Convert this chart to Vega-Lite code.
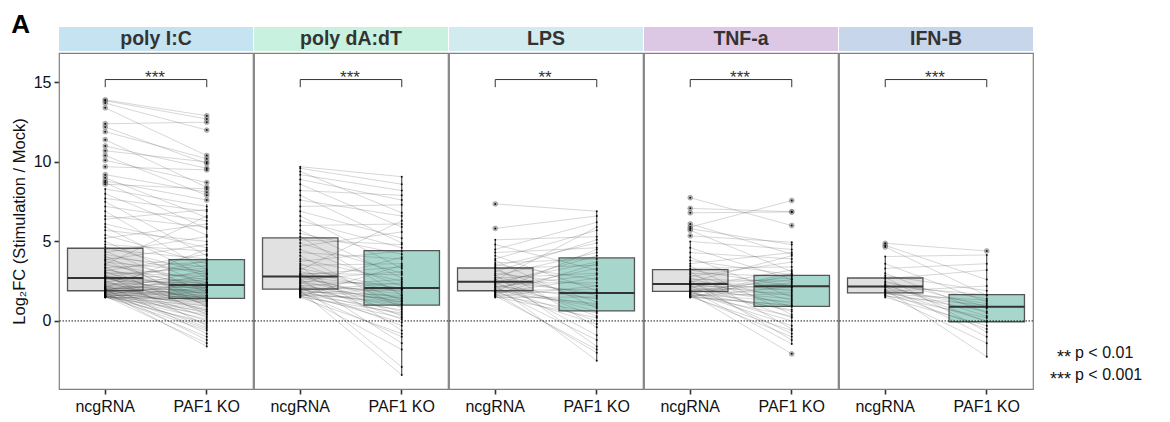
{
  "$schema": "https://vega.github.io/schema/vega-lite/v6.json",
  "padding": {"left": 11, "top": 12, "right": 5, "bottom": 5},
  "title": {"text": "A", "anchor": "start", "frame": "bounds", "fontSize": 26, "fontWeight": "bold", "color": "#000000", "font": "Liberation Sans", "offset": -12},
  "datasets": {
    "main": [
      {"t":"panel","p":"poly I:C","sig":"***"},
      {"t":"panel","p":"poly dA:dT","sig":"***"},
      {"t":"panel","p":"LPS","sig":"**"},
      {"t":"panel","p":"TNF-a","sig":"***"},
      {"t":"panel","p":"IFN-B","sig":"***"},
      {"t":"key","s":"**","l":"p < 0.01"},
      {"t":"key","s":"***","l":"p < 0.001"},
      {"t":"box","p":"poly I:C","g":"ncgRNA","q1":1.9,"med":2.7,"q3":4.57,"lo":1.48,"hi":8.3},
      {"t":"box","p":"poly I:C","g":"PAF1 KO","q1":1.42,"med":2.26,"q3":3.85,"lo":-1.6,"hi":7.35},
      {"t":"box","p":"poly dA:dT","g":"ncgRNA","q1":2.0,"med":2.8,"q3":5.22,"lo":1.48,"hi":9.7},
      {"t":"box","p":"poly dA:dT","g":"PAF1 KO","q1":1.0,"med":2.07,"q3":4.42,"lo":-3.4,"hi":9.07},
      {"t":"box","p":"LPS","g":"ncgRNA","q1":1.9,"med":2.47,"q3":3.33,"lo":1.48,"hi":5.1},
      {"t":"box","p":"LPS","g":"PAF1 KO","q1":0.63,"med":1.76,"q3":3.96,"lo":-2.5,"hi":6.9},
      {"t":"box","p":"TNF-a","g":"ncgRNA","q1":1.86,"med":2.33,"q3":3.23,"lo":1.48,"hi":5.0},
      {"t":"box","p":"TNF-a","g":"PAF1 KO","q1":0.92,"med":2.18,"q3":2.87,"lo":-1.45,"hi":4.95},
      {"t":"box","p":"IFN-B","g":"ncgRNA","q1":1.76,"med":2.16,"q3":2.7,"lo":1.48,"hi":4.05},
      {"t":"box","p":"IFN-B","g":"PAF1 KO","q1":-0.05,"med":0.9,"q3":1.65,"lo":-2.25,"hi":4.15},
      {"t":"pair","p":"poly I:C","id":1,"ncgRNA":13.9,"PAF1 KO":12.9},
      {"t":"pair","p":"poly I:C","id":2,"ncgRNA":13.85,"PAF1 KO":12.7},
      {"t":"pair","p":"poly I:C","id":3,"ncgRNA":13.7,"PAF1 KO":12.0},
      {"t":"pair","p":"poly I:C","id":4,"ncgRNA":13.4,"PAF1 KO":10.4},
      {"t":"pair","p":"poly I:C","id":5,"ncgRNA":12.4,"PAF1 KO":12.5},
      {"t":"pair","p":"poly I:C","id":6,"ncgRNA":12.2,"PAF1 KO":9.9},
      {"t":"pair","p":"poly I:C","id":7,"ncgRNA":11.9,"PAF1 KO":10.2},
      {"t":"pair","p":"poly I:C","id":8,"ncgRNA":11.4,"PAF1 KO":8.4},
      {"t":"pair","p":"poly I:C","id":9,"ncgRNA":11.0,"PAF1 KO":9.6},
      {"t":"pair","p":"poly I:C","id":10,"ncgRNA":10.7,"PAF1 KO":10.0},
      {"t":"pair","p":"poly I:C","id":11,"ncgRNA":10.4,"PAF1 KO":7.9},
      {"t":"pair","p":"poly I:C","id":12,"ncgRNA":10.1,"PAF1 KO":8.7},
      {"t":"pair","p":"poly I:C","id":13,"ncgRNA":9.7,"PAF1 KO":9.5},
      {"t":"pair","p":"poly I:C","id":14,"ncgRNA":9.2,"PAF1 KO":8.1},
      {"t":"pair","p":"poly I:C","id":15,"ncgRNA":9.0,"PAF1 KO":6.5},
      {"t":"pair","p":"poly I:C","id":16,"ncgRNA":8.8,"PAF1 KO":7.6},
      {"t":"pair","p":"poly I:C","id":17,"ncgRNA":8.7,"PAF1 KO":5.8},
      {"t":"pair","p":"poly I:C","id":18,"ncgRNA":8.6,"PAF1 KO":8.3},
      {"t":"pair","p":"poly I:C","id":19,"ncgRNA":8.3,"PAF1 KO":7.2},
      {"t":"pair","p":"poly I:C","id":20,"ncgRNA":8.0,"PAF1 KO":5.4},
      {"t":"pair","p":"poly I:C","id":21,"ncgRNA":7.7,"PAF1 KO":6.9},
      {"t":"pair","p":"poly I:C","id":22,"ncgRNA":7.5,"PAF1 KO":4.1},
      {"t":"pair","p":"poly I:C","id":23,"ncgRNA":7.2,"PAF1 KO":6.3},
      {"t":"pair","p":"poly I:C","id":24,"ncgRNA":6.9,"PAF1 KO":3.2},
      {"t":"pair","p":"poly I:C","id":25,"ncgRNA":6.6,"PAF1 KO":5.9},
      {"t":"pair","p":"poly I:C","id":26,"ncgRNA":6.4,"PAF1 KO":7.0},
      {"t":"pair","p":"poly I:C","id":27,"ncgRNA":6.1,"PAF1 KO":4.6},
      {"t":"pair","p":"poly I:C","id":28,"ncgRNA":5.9,"PAF1 KO":2.7},
      {"t":"pair","p":"poly I:C","id":29,"ncgRNA":5.7,"PAF1 KO":5.0},
      {"t":"pair","p":"poly I:C","id":30,"ncgRNA":5.4,"PAF1 KO":3.6},
      {"t":"pair","p":"poly I:C","id":31,"ncgRNA":5.2,"PAF1 KO":6.1},
      {"t":"pair","p":"poly I:C","id":32,"ncgRNA":5.0,"PAF1 KO":2.2},
      {"t":"pair","p":"poly I:C","id":33,"ncgRNA":4.8,"PAF1 KO":4.4},
      {"t":"pair","p":"poly I:C","id":34,"ncgRNA":4.65,"PAF1 KO":3.0},
      {"t":"pair","p":"poly I:C","id":35,"ncgRNA":4.5,"PAF1 KO":3.9},
      {"t":"pair","p":"poly I:C","id":36,"ncgRNA":4.4,"PAF1 KO":1.8},
      {"t":"pair","p":"poly I:C","id":37,"ncgRNA":4.3,"PAF1 KO":5.3},
      {"t":"pair","p":"poly I:C","id":38,"ncgRNA":4.2,"PAF1 KO":2.9},
      {"t":"pair","p":"poly I:C","id":39,"ncgRNA":4.1,"PAF1 KO":0.9},
      {"t":"pair","p":"poly I:C","id":40,"ncgRNA":4.0,"PAF1 KO":3.4},
      {"t":"pair","p":"poly I:C","id":41,"ncgRNA":3.9,"PAF1 KO":2.4},
      {"t":"pair","p":"poly I:C","id":42,"ncgRNA":3.85,"PAF1 KO":4.8},
      {"t":"pair","p":"poly I:C","id":43,"ncgRNA":3.8,"PAF1 KO":1.3},
      {"t":"pair","p":"poly I:C","id":44,"ncgRNA":3.7,"PAF1 KO":3.1},
      {"t":"pair","p":"poly I:C","id":45,"ncgRNA":3.6,"PAF1 KO":2.0},
      {"t":"pair","p":"poly I:C","id":46,"ncgRNA":3.55,"PAF1 KO":6.6},
      {"t":"pair","p":"poly I:C","id":47,"ncgRNA":3.5,"PAF1 KO":2.6},
      {"t":"pair","p":"poly I:C","id":48,"ncgRNA":3.4,"PAF1 KO":0.4},
      {"t":"pair","p":"poly I:C","id":49,"ncgRNA":3.35,"PAF1 KO":3.7},
      {"t":"pair","p":"poly I:C","id":50,"ncgRNA":3.3,"PAF1 KO":1.6},
      {"t":"pair","p":"poly I:C","id":51,"ncgRNA":3.2,"PAF1 KO":2.3},
      {"t":"pair","p":"poly I:C","id":52,"ncgRNA":3.15,"PAF1 KO":4.2},
      {"t":"pair","p":"poly I:C","id":53,"ncgRNA":3.1,"PAF1 KO":1.0},
      {"t":"pair","p":"poly I:C","id":54,"ncgRNA":3.05,"PAF1 KO":2.8},
      {"t":"pair","p":"poly I:C","id":55,"ncgRNA":3.0,"PAF1 KO":1.9},
      {"t":"pair","p":"poly I:C","id":56,"ncgRNA":2.95,"PAF1 KO":3.3},
      {"t":"pair","p":"poly I:C","id":57,"ncgRNA":2.9,"PAF1 KO":-0.3},
      {"t":"pair","p":"poly I:C","id":58,"ncgRNA":2.85,"PAF1 KO":2.1},
      {"t":"pair","p":"poly I:C","id":59,"ncgRNA":2.8,"PAF1 KO":1.5},
      {"t":"pair","p":"poly I:C","id":60,"ncgRNA":2.78,"PAF1 KO":3.5},
      {"t":"pair","p":"poly I:C","id":61,"ncgRNA":2.75,"PAF1 KO":0.6},
      {"t":"pair","p":"poly I:C","id":62,"ncgRNA":2.72,"PAF1 KO":2.5},
      {"t":"pair","p":"poly I:C","id":63,"ncgRNA":2.71,"PAF1 KO":1.2},
      {"t":"pair","p":"poly I:C","id":64,"ncgRNA":2.7,"PAF1 KO":2.0},
      {"t":"pair","p":"poly I:C","id":65,"ncgRNA":2.68,"PAF1 KO":2.26},
      {"t":"pair","p":"poly I:C","id":66,"ncgRNA":2.65,"PAF1 KO":1.7},
      {"t":"pair","p":"poly I:C","id":67,"ncgRNA":2.6,"PAF1 KO":3.0},
      {"t":"pair","p":"poly I:C","id":68,"ncgRNA":2.55,"PAF1 KO":0.2},
      {"t":"pair","p":"poly I:C","id":69,"ncgRNA":2.5,"PAF1 KO":2.4},
      {"t":"pair","p":"poly I:C","id":70,"ncgRNA":2.45,"PAF1 KO":1.4},
      {"t":"pair","p":"poly I:C","id":71,"ncgRNA":2.42,"PAF1 KO":3.8},
      {"t":"pair","p":"poly I:C","id":72,"ncgRNA":2.4,"PAF1 KO":1.1},
      {"t":"pair","p":"poly I:C","id":73,"ncgRNA":2.35,"PAF1 KO":2.2},
      {"t":"pair","p":"poly I:C","id":74,"ncgRNA":2.3,"PAF1 KO":-0.8},
      {"t":"pair","p":"poly I:C","id":75,"ncgRNA":2.27,"PAF1 KO":1.8},
      {"t":"pair","p":"poly I:C","id":76,"ncgRNA":2.25,"PAF1 KO":2.7},
      {"t":"pair","p":"poly I:C","id":77,"ncgRNA":2.2,"PAF1 KO":1.45},
      {"t":"pair","p":"poly I:C","id":78,"ncgRNA":2.17,"PAF1 KO":0.7},
      {"t":"pair","p":"poly I:C","id":79,"ncgRNA":2.15,"PAF1 KO":2.1},
      {"t":"pair","p":"poly I:C","id":80,"ncgRNA":2.12,"PAF1 KO":1.6},
      {"t":"pair","p":"poly I:C","id":81,"ncgRNA":2.1,"PAF1 KO":4.5},
      {"t":"pair","p":"poly I:C","id":82,"ncgRNA":2.07,"PAF1 KO":0.0},
      {"t":"pair","p":"poly I:C","id":83,"ncgRNA":2.05,"PAF1 KO":1.9},
      {"t":"pair","p":"poly I:C","id":84,"ncgRNA":2.03,"PAF1 KO":1.3},
      {"t":"pair","p":"poly I:C","id":85,"ncgRNA":2.0,"PAF1 KO":2.3},
      {"t":"pair","p":"poly I:C","id":86,"ncgRNA":1.99,"PAF1 KO":-1.2},
      {"t":"pair","p":"poly I:C","id":87,"ncgRNA":1.97,"PAF1 KO":1.5},
      {"t":"pair","p":"poly I:C","id":88,"ncgRNA":1.96,"PAF1 KO":2.6},
      {"t":"pair","p":"poly I:C","id":89,"ncgRNA":1.95,"PAF1 KO":0.9},
      {"t":"pair","p":"poly I:C","id":90,"ncgRNA":1.94,"PAF1 KO":1.75},
      {"t":"pair","p":"poly I:C","id":91,"ncgRNA":1.93,"PAF1 KO":-0.4},
      {"t":"pair","p":"poly I:C","id":92,"ncgRNA":1.92,"PAF1 KO":2.0},
      {"t":"pair","p":"poly I:C","id":93,"ncgRNA":1.91,"PAF1 KO":1.2},
      {"t":"pair","p":"poly I:C","id":94,"ncgRNA":1.9,"PAF1 KO":3.2},
      {"t":"pair","p":"poly I:C","id":95,"ncgRNA":1.88,"PAF1 KO":1.4},
      {"t":"pair","p":"poly I:C","id":96,"ncgRNA":1.86,"PAF1 KO":0.5},
      {"t":"pair","p":"poly I:C","id":97,"ncgRNA":1.85,"PAF1 KO":2.2},
      {"t":"pair","p":"poly I:C","id":98,"ncgRNA":1.83,"PAF1 KO":1.0},
      {"t":"pair","p":"poly I:C","id":99,"ncgRNA":1.82,"PAF1 KO":-1.6},
      {"t":"pair","p":"poly I:C","id":100,"ncgRNA":1.8,"PAF1 KO":1.6},
      {"t":"pair","p":"poly I:C","id":101,"ncgRNA":1.78,"PAF1 KO":0.3},
      {"t":"pair","p":"poly I:C","id":102,"ncgRNA":1.77,"PAF1 KO":2.9},
      {"t":"pair","p":"poly I:C","id":103,"ncgRNA":1.75,"PAF1 KO":1.1},
      {"t":"pair","p":"poly I:C","id":104,"ncgRNA":1.73,"PAF1 KO":-0.5},
      {"t":"pair","p":"poly I:C","id":105,"ncgRNA":1.72,"PAF1 KO":1.9},
      {"t":"pair","p":"poly I:C","id":106,"ncgRNA":1.7,"PAF1 KO":0.8},
      {"t":"pair","p":"poly I:C","id":107,"ncgRNA":1.68,"PAF1 KO":1.3},
      {"t":"pair","p":"poly I:C","id":108,"ncgRNA":1.67,"PAF1 KO":-1.0},
      {"t":"pair","p":"poly I:C","id":109,"ncgRNA":1.65,"PAF1 KO":2.4},
      {"t":"pair","p":"poly I:C","id":110,"ncgRNA":1.63,"PAF1 KO":0.1},
      {"t":"pair","p":"poly I:C","id":111,"ncgRNA":1.62,"PAF1 KO":1.5},
      {"t":"pair","p":"poly I:C","id":112,"ncgRNA":1.6,"PAF1 KO":-0.2},
      {"t":"pair","p":"poly I:C","id":113,"ncgRNA":1.59,"PAF1 KO":0.7},
      {"t":"pair","p":"poly I:C","id":114,"ncgRNA":1.57,"PAF1 KO":1.8},
      {"t":"pair","p":"poly I:C","id":115,"ncgRNA":1.56,"PAF1 KO":-1.4},
      {"t":"pair","p":"poly I:C","id":116,"ncgRNA":1.55,"PAF1 KO":1.2},
      {"t":"pair","p":"poly I:C","id":117,"ncgRNA":1.54,"PAF1 KO":0.4},
      {"t":"pair","p":"poly I:C","id":118,"ncgRNA":1.53,"PAF1 KO":2.1},
      {"t":"pair","p":"poly I:C","id":119,"ncgRNA":1.52,"PAF1 KO":-0.6},
      {"t":"pair","p":"poly I:C","id":120,"ncgRNA":1.51,"PAF1 KO":0.95},
      {"t":"pair","p":"poly I:C","id":121,"ncgRNA":1.5,"PAF1 KO":1.42},
      {"t":"pair","p":"poly I:C","id":122,"ncgRNA":1.49,"PAF1 KO":-0.1},
      {"t":"pair","p":"poly I:C","id":123,"ncgRNA":1.485,"PAF1 KO":0.6},
      {"t":"pair","p":"poly I:C","id":124,"ncgRNA":1.48,"PAF1 KO":1.35},
      {"t":"pair","p":"poly dA:dT","id":1,"ncgRNA":9.7,"PAF1 KO":9.07},
      {"t":"pair","p":"poly dA:dT","id":2,"ncgRNA":9.6,"PAF1 KO":8.6},
      {"t":"pair","p":"poly dA:dT","id":3,"ncgRNA":9.4,"PAF1 KO":6.8},
      {"t":"pair","p":"poly dA:dT","id":4,"ncgRNA":9.2,"PAF1 KO":8.2},
      {"t":"pair","p":"poly dA:dT","id":5,"ncgRNA":8.9,"PAF1 KO":7.6},
      {"t":"pair","p":"poly dA:dT","id":6,"ncgRNA":8.6,"PAF1 KO":5.9},
      {"t":"pair","p":"poly dA:dT","id":7,"ncgRNA":8.2,"PAF1 KO":7.9},
      {"t":"pair","p":"poly dA:dT","id":8,"ncgRNA":7.9,"PAF1 KO":4.9},
      {"t":"pair","p":"poly dA:dT","id":9,"ncgRNA":7.6,"PAF1 KO":6.6},
      {"t":"pair","p":"poly dA:dT","id":10,"ncgRNA":7.2,"PAF1 KO":7.3},
      {"t":"pair","p":"poly dA:dT","id":11,"ncgRNA":6.9,"PAF1 KO":5.2},
      {"t":"pair","p":"poly dA:dT","id":12,"ncgRNA":6.6,"PAF1 KO":3.3},
      {"t":"pair","p":"poly dA:dT","id":13,"ncgRNA":6.3,"PAF1 KO":4.6},
      {"t":"pair","p":"poly dA:dT","id":14,"ncgRNA":6.0,"PAF1 KO":6.1},
      {"t":"pair","p":"poly dA:dT","id":15,"ncgRNA":5.7,"PAF1 KO":2.7},
      {"t":"pair","p":"poly dA:dT","id":16,"ncgRNA":5.5,"PAF1 KO":4.2},
      {"t":"pair","p":"poly dA:dT","id":17,"ncgRNA":5.3,"PAF1 KO":1.6},
      {"t":"pair","p":"poly dA:dT","id":18,"ncgRNA":5.1,"PAF1 KO":4.8},
      {"t":"pair","p":"poly dA:dT","id":19,"ncgRNA":4.9,"PAF1 KO":3.0},
      {"t":"pair","p":"poly dA:dT","id":20,"ncgRNA":4.7,"PAF1 KO":5.6},
      {"t":"pair","p":"poly dA:dT","id":21,"ncgRNA":4.5,"PAF1 KO":2.2},
      {"t":"pair","p":"poly dA:dT","id":22,"ncgRNA":4.3,"PAF1 KO":3.9},
      {"t":"pair","p":"poly dA:dT","id":23,"ncgRNA":4.1,"PAF1 KO":0.8},
      {"t":"pair","p":"poly dA:dT","id":24,"ncgRNA":3.9,"PAF1 KO":2.5},
      {"t":"pair","p":"poly dA:dT","id":25,"ncgRNA":3.75,"PAF1 KO":4.4},
      {"t":"pair","p":"poly dA:dT","id":26,"ncgRNA":3.6,"PAF1 KO":1.3},
      {"t":"pair","p":"poly dA:dT","id":27,"ncgRNA":3.5,"PAF1 KO":3.6},
      {"t":"pair","p":"poly dA:dT","id":28,"ncgRNA":3.4,"PAF1 KO":-0.6},
      {"t":"pair","p":"poly dA:dT","id":29,"ncgRNA":3.3,"PAF1 KO":2.0},
      {"t":"pair","p":"poly dA:dT","id":30,"ncgRNA":3.2,"PAF1 KO":6.3},
      {"t":"pair","p":"poly dA:dT","id":31,"ncgRNA":3.1,"PAF1 KO":1.8},
      {"t":"pair","p":"poly dA:dT","id":32,"ncgRNA":3.0,"PAF1 KO":2.9},
      {"t":"pair","p":"poly dA:dT","id":33,"ncgRNA":2.95,"PAF1 KO":0.3},
      {"t":"pair","p":"poly dA:dT","id":34,"ncgRNA":2.9,"PAF1 KO":3.4},
      {"t":"pair","p":"poly dA:dT","id":35,"ncgRNA":2.85,"PAF1 KO":1.1},
      {"t":"pair","p":"poly dA:dT","id":36,"ncgRNA":2.78,"PAF1 KO":2.07},
      {"t":"pair","p":"poly dA:dT","id":37,"ncgRNA":2.72,"PAF1 KO":1.4},
      {"t":"pair","p":"poly dA:dT","id":38,"ncgRNA":2.65,"PAF1 KO":-1.4},
      {"t":"pair","p":"poly dA:dT","id":39,"ncgRNA":2.6,"PAF1 KO":3.1},
      {"t":"pair","p":"poly dA:dT","id":40,"ncgRNA":2.55,"PAF1 KO":1.0},
      {"t":"pair","p":"poly dA:dT","id":41,"ncgRNA":2.5,"PAF1 KO":2.3},
      {"t":"pair","p":"poly dA:dT","id":42,"ncgRNA":2.45,"PAF1 KO":0.1},
      {"t":"pair","p":"poly dA:dT","id":43,"ncgRNA":2.4,"PAF1 KO":1.7},
      {"t":"pair","p":"poly dA:dT","id":44,"ncgRNA":2.35,"PAF1 KO":4.0},
      {"t":"pair","p":"poly dA:dT","id":45,"ncgRNA":2.3,"PAF1 KO":-2.9},
      {"t":"pair","p":"poly dA:dT","id":46,"ncgRNA":2.25,"PAF1 KO":1.2},
      {"t":"pair","p":"poly dA:dT","id":47,"ncgRNA":2.2,"PAF1 KO":2.6},
      {"t":"pair","p":"poly dA:dT","id":48,"ncgRNA":2.15,"PAF1 KO":0.6},
      {"t":"pair","p":"poly dA:dT","id":49,"ncgRNA":2.1,"PAF1 KO":1.9},
      {"t":"pair","p":"poly dA:dT","id":50,"ncgRNA":2.07,"PAF1 KO":-0.3},
      {"t":"pair","p":"poly dA:dT","id":51,"ncgRNA":2.04,"PAF1 KO":1.5},
      {"t":"pair","p":"poly dA:dT","id":52,"ncgRNA":2.0,"PAF1 KO":2.1},
      {"t":"pair","p":"poly dA:dT","id":53,"ncgRNA":1.98,"PAF1 KO":0.9},
      {"t":"pair","p":"poly dA:dT","id":54,"ncgRNA":1.95,"PAF1 KO":1.3},
      {"t":"pair","p":"poly dA:dT","id":55,"ncgRNA":1.92,"PAF1 KO":-3.4},
      {"t":"pair","p":"poly dA:dT","id":56,"ncgRNA":1.9,"PAF1 KO":2.4},
      {"t":"pair","p":"poly dA:dT","id":57,"ncgRNA":1.87,"PAF1 KO":0.4},
      {"t":"pair","p":"poly dA:dT","id":58,"ncgRNA":1.84,"PAF1 KO":1.6},
      {"t":"pair","p":"poly dA:dT","id":59,"ncgRNA":1.81,"PAF1 KO":-1.0},
      {"t":"pair","p":"poly dA:dT","id":60,"ncgRNA":1.78,"PAF1 KO":1.05},
      {"t":"pair","p":"poly dA:dT","id":61,"ncgRNA":1.75,"PAF1 KO":2.0},
      {"t":"pair","p":"poly dA:dT","id":62,"ncgRNA":1.72,"PAF1 KO":-0.1},
      {"t":"pair","p":"poly dA:dT","id":63,"ncgRNA":1.69,"PAF1 KO":1.2},
      {"t":"pair","p":"poly dA:dT","id":64,"ncgRNA":1.66,"PAF1 KO":0.7},
      {"t":"pair","p":"poly dA:dT","id":65,"ncgRNA":1.63,"PAF1 KO":-1.8},
      {"t":"pair","p":"poly dA:dT","id":66,"ncgRNA":1.6,"PAF1 KO":1.45},
      {"t":"pair","p":"poly dA:dT","id":67,"ncgRNA":1.57,"PAF1 KO":0.2},
      {"t":"pair","p":"poly dA:dT","id":68,"ncgRNA":1.54,"PAF1 KO":3.5},
      {"t":"pair","p":"poly dA:dT","id":69,"ncgRNA":1.51,"PAF1 KO":0.5},
      {"t":"pair","p":"poly dA:dT","id":70,"ncgRNA":1.48,"PAF1 KO":-0.8},
      {"t":"pair","p":"LPS","id":1,"ncgRNA":7.36,"PAF1 KO":6.9},
      {"t":"pair","p":"LPS","id":2,"ncgRNA":5.82,"PAF1 KO":6.6},
      {"t":"pair","p":"LPS","id":3,"ncgRNA":5.1,"PAF1 KO":5.3},
      {"t":"pair","p":"LPS","id":4,"ncgRNA":4.8,"PAF1 KO":3.2},
      {"t":"pair","p":"LPS","id":5,"ncgRNA":4.5,"PAF1 KO":6.2},
      {"t":"pair","p":"LPS","id":6,"ncgRNA":4.3,"PAF1 KO":4.6},
      {"t":"pair","p":"LPS","id":7,"ncgRNA":4.1,"PAF1 KO":1.9},
      {"t":"pair","p":"LPS","id":8,"ncgRNA":3.9,"PAF1 KO":5.7},
      {"t":"pair","p":"LPS","id":9,"ncgRNA":3.8,"PAF1 KO":0.8},
      {"t":"pair","p":"LPS","id":10,"ncgRNA":3.65,"PAF1 KO":3.9},
      {"t":"pair","p":"LPS","id":11,"ncgRNA":3.55,"PAF1 KO":2.6},
      {"t":"pair","p":"LPS","id":12,"ncgRNA":3.45,"PAF1 KO":4.9},
      {"t":"pair","p":"LPS","id":13,"ncgRNA":3.38,"PAF1 KO":-0.4},
      {"t":"pair","p":"LPS","id":14,"ncgRNA":3.3,"PAF1 KO":3.5},
      {"t":"pair","p":"LPS","id":15,"ncgRNA":3.2,"PAF1 KO":1.2},
      {"t":"pair","p":"LPS","id":16,"ncgRNA":3.1,"PAF1 KO":5.1},
      {"t":"pair","p":"LPS","id":17,"ncgRNA":3.0,"PAF1 KO":2.2},
      {"t":"pair","p":"LPS","id":18,"ncgRNA":2.9,"PAF1 KO":-1.6},
      {"t":"pair","p":"LPS","id":19,"ncgRNA":2.85,"PAF1 KO":4.3},
      {"t":"pair","p":"LPS","id":20,"ncgRNA":2.75,"PAF1 KO":1.6},
      {"t":"pair","p":"LPS","id":21,"ncgRNA":2.7,"PAF1 KO":3.0},
      {"t":"pair","p":"LPS","id":22,"ncgRNA":2.62,"PAF1 KO":0.3},
      {"t":"pair","p":"LPS","id":23,"ncgRNA":2.56,"PAF1 KO":5.9},
      {"t":"pair","p":"LPS","id":24,"ncgRNA":2.5,"PAF1 KO":1.76},
      {"t":"pair","p":"LPS","id":25,"ncgRNA":2.48,"PAF1 KO":-0.9},
      {"t":"pair","p":"LPS","id":26,"ncgRNA":2.45,"PAF1 KO":3.7},
      {"t":"pair","p":"LPS","id":27,"ncgRNA":2.4,"PAF1 KO":2.4},
      {"t":"pair","p":"LPS","id":28,"ncgRNA":2.35,"PAF1 KO":0.6},
      {"t":"pair","p":"LPS","id":29,"ncgRNA":2.3,"PAF1 KO":4.1},
      {"t":"pair","p":"LPS","id":30,"ncgRNA":2.25,"PAF1 KO":-2.5},
      {"t":"pair","p":"LPS","id":31,"ncgRNA":2.2,"PAF1 KO":1.4},
      {"t":"pair","p":"LPS","id":32,"ncgRNA":2.15,"PAF1 KO":2.9},
      {"t":"pair","p":"LPS","id":33,"ncgRNA":2.1,"PAF1 KO":0.0},
      {"t":"pair","p":"LPS","id":34,"ncgRNA":2.05,"PAF1 KO":3.3},
      {"t":"pair","p":"LPS","id":35,"ncgRNA":2.0,"PAF1 KO":1.0},
      {"t":"pair","p":"LPS","id":36,"ncgRNA":1.95,"PAF1 KO":-1.2},
      {"t":"pair","p":"LPS","id":37,"ncgRNA":1.91,"PAF1 KO":2.0},
      {"t":"pair","p":"LPS","id":38,"ncgRNA":1.89,"PAF1 KO":0.9},
      {"t":"pair","p":"LPS","id":39,"ncgRNA":1.86,"PAF1 KO":4.5},
      {"t":"pair","p":"LPS","id":40,"ncgRNA":1.83,"PAF1 KO":-0.2},
      {"t":"pair","p":"LPS","id":41,"ncgRNA":1.8,"PAF1 KO":1.8},
      {"t":"pair","p":"LPS","id":42,"ncgRNA":1.77,"PAF1 KO":2.7},
      {"t":"pair","p":"LPS","id":43,"ncgRNA":1.73,"PAF1 KO":-2.0},
      {"t":"pair","p":"LPS","id":44,"ncgRNA":1.7,"PAF1 KO":1.1},
      {"t":"pair","p":"LPS","id":45,"ncgRNA":1.66,"PAF1 KO":3.6},
      {"t":"pair","p":"LPS","id":46,"ncgRNA":1.62,"PAF1 KO":0.5},
      {"t":"pair","p":"LPS","id":47,"ncgRNA":1.58,"PAF1 KO":-1.8},
      {"t":"pair","p":"LPS","id":48,"ncgRNA":1.55,"PAF1 KO":2.2},
      {"t":"pair","p":"LPS","id":49,"ncgRNA":1.52,"PAF1 KO":0.2},
      {"t":"pair","p":"LPS","id":50,"ncgRNA":1.48,"PAF1 KO":1.5},
      {"t":"pair","p":"TNF-a","id":1,"ncgRNA":7.75,"PAF1 KO":6.0},
      {"t":"pair","p":"TNF-a","id":2,"ncgRNA":7.08,"PAF1 KO":6.87},
      {"t":"pair","p":"TNF-a","id":3,"ncgRNA":6.8,"PAF1 KO":6.85},
      {"t":"pair","p":"TNF-a","id":4,"ncgRNA":6.1,"PAF1 KO":4.2},
      {"t":"pair","p":"TNF-a","id":5,"ncgRNA":5.9,"PAF1 KO":7.57},
      {"t":"pair","p":"TNF-a","id":6,"ncgRNA":5.8,"PAF1 KO":4.8},
      {"t":"pair","p":"TNF-a","id":7,"ncgRNA":5.7,"PAF1 KO":3.1},
      {"t":"pair","p":"TNF-a","id":8,"ncgRNA":5.35,"PAF1 KO":4.95},
      {"t":"pair","p":"TNF-a","id":9,"ncgRNA":5.0,"PAF1 KO":4.5},
      {"t":"pair","p":"TNF-a","id":10,"ncgRNA":4.6,"PAF1 KO":2.6},
      {"t":"pair","p":"TNF-a","id":11,"ncgRNA":4.3,"PAF1 KO":3.9},
      {"t":"pair","p":"TNF-a","id":12,"ncgRNA":4.0,"PAF1 KO":1.5},
      {"t":"pair","p":"TNF-a","id":13,"ncgRNA":3.8,"PAF1 KO":2.9},
      {"t":"pair","p":"TNF-a","id":14,"ncgRNA":3.6,"PAF1 KO":4.3},
      {"t":"pair","p":"TNF-a","id":15,"ncgRNA":3.45,"PAF1 KO":0.4},
      {"t":"pair","p":"TNF-a","id":16,"ncgRNA":3.3,"PAF1 KO":3.4},
      {"t":"pair","p":"TNF-a","id":17,"ncgRNA":3.2,"PAF1 KO":2.2},
      {"t":"pair","p":"TNF-a","id":18,"ncgRNA":3.1,"PAF1 KO":-0.5},
      {"t":"pair","p":"TNF-a","id":19,"ncgRNA":3.0,"PAF1 KO":2.8},
      {"t":"pair","p":"TNF-a","id":20,"ncgRNA":2.9,"PAF1 KO":1.3},
      {"t":"pair","p":"TNF-a","id":21,"ncgRNA":2.8,"PAF1 KO":3.7},
      {"t":"pair","p":"TNF-a","id":22,"ncgRNA":2.7,"PAF1 KO":0.9},
      {"t":"pair","p":"TNF-a","id":23,"ncgRNA":2.62,"PAF1 KO":2.5},
      {"t":"pair","p":"TNF-a","id":24,"ncgRNA":2.55,"PAF1 KO":-1.2},
      {"t":"pair","p":"TNF-a","id":25,"ncgRNA":2.5,"PAF1 KO":1.9},
      {"t":"pair","p":"TNF-a","id":26,"ncgRNA":2.45,"PAF1 KO":4.1},
      {"t":"pair","p":"TNF-a","id":27,"ncgRNA":2.4,"PAF1 KO":0.2},
      {"t":"pair","p":"TNF-a","id":28,"ncgRNA":2.35,"PAF1 KO":2.3},
      {"t":"pair","p":"TNF-a","id":29,"ncgRNA":2.32,"PAF1 KO":1.6},
      {"t":"pair","p":"TNF-a","id":30,"ncgRNA":2.28,"PAF1 KO":2.7},
      {"t":"pair","p":"TNF-a","id":31,"ncgRNA":2.24,"PAF1 KO":-0.8},
      {"t":"pair","p":"TNF-a","id":32,"ncgRNA":2.2,"PAF1 KO":2.1},
      {"t":"pair","p":"TNF-a","id":33,"ncgRNA":2.15,"PAF1 KO":1.1},
      {"t":"pair","p":"TNF-a","id":34,"ncgRNA":2.1,"PAF1 KO":3.2},
      {"t":"pair","p":"TNF-a","id":35,"ncgRNA":2.05,"PAF1 KO":0.6},
      {"t":"pair","p":"TNF-a","id":36,"ncgRNA":2.0,"PAF1 KO":2.0},
      {"t":"pair","p":"TNF-a","id":37,"ncgRNA":1.96,"PAF1 KO":-1.45},
      {"t":"pair","p":"TNF-a","id":38,"ncgRNA":1.92,"PAF1 KO":1.4},
      {"t":"pair","p":"TNF-a","id":39,"ncgRNA":1.88,"PAF1 KO":2.6},
      {"t":"pair","p":"TNF-a","id":40,"ncgRNA":1.86,"PAF1 KO":0.0},
      {"t":"pair","p":"TNF-a","id":41,"ncgRNA":1.84,"PAF1 KO":1.8},
      {"t":"pair","p":"TNF-a","id":42,"ncgRNA":1.81,"PAF1 KO":-0.3},
      {"t":"pair","p":"TNF-a","id":43,"ncgRNA":1.78,"PAF1 KO":2.4},
      {"t":"pair","p":"TNF-a","id":44,"ncgRNA":1.75,"PAF1 KO":0.7},
      {"t":"pair","p":"TNF-a","id":45,"ncgRNA":1.72,"PAF1 KO":-2.07},
      {"t":"pair","p":"TNF-a","id":46,"ncgRNA":1.69,"PAF1 KO":1.2},
      {"t":"pair","p":"TNF-a","id":47,"ncgRNA":1.66,"PAF1 KO":3.0},
      {"t":"pair","p":"TNF-a","id":48,"ncgRNA":1.63,"PAF1 KO":0.3},
      {"t":"pair","p":"TNF-a","id":49,"ncgRNA":1.6,"PAF1 KO":1.7},
      {"t":"pair","p":"TNF-a","id":50,"ncgRNA":1.57,"PAF1 KO":-1.0},
      {"t":"pair","p":"TNF-a","id":51,"ncgRNA":1.55,"PAF1 KO":2.15},
      {"t":"pair","p":"TNF-a","id":52,"ncgRNA":1.53,"PAF1 KO":0.95},
      {"t":"pair","p":"TNF-a","id":53,"ncgRNA":1.51,"PAF1 KO":-0.6},
      {"t":"pair","p":"TNF-a","id":54,"ncgRNA":1.49,"PAF1 KO":1.0},
      {"t":"pair","p":"TNF-a","id":55,"ncgRNA":1.48,"PAF1 KO":2.9},
      {"t":"pair","p":"IFN-B","id":1,"ncgRNA":4.88,"PAF1 KO":4.4},
      {"t":"pair","p":"IFN-B","id":2,"ncgRNA":4.75,"PAF1 KO":2.6},
      {"t":"pair","p":"IFN-B","id":3,"ncgRNA":4.65,"PAF1 KO":1.6},
      {"t":"pair","p":"IFN-B","id":4,"ncgRNA":4.05,"PAF1 KO":4.15},
      {"t":"pair","p":"IFN-B","id":5,"ncgRNA":3.6,"PAF1 KO":1.2},
      {"t":"pair","p":"IFN-B","id":6,"ncgRNA":3.3,"PAF1 KO":3.6},
      {"t":"pair","p":"IFN-B","id":7,"ncgRNA":3.0,"PAF1 KO":0.5},
      {"t":"pair","p":"IFN-B","id":8,"ncgRNA":2.85,"PAF1 KO":1.9},
      {"t":"pair","p":"IFN-B","id":9,"ncgRNA":2.75,"PAF1 KO":-0.7},
      {"t":"pair","p":"IFN-B","id":10,"ncgRNA":2.65,"PAF1 KO":3.2},
      {"t":"pair","p":"IFN-B","id":11,"ncgRNA":2.5,"PAF1 KO":0.9},
      {"t":"pair","p":"IFN-B","id":12,"ncgRNA":2.4,"PAF1 KO":1.4},
      {"t":"pair","p":"IFN-B","id":13,"ncgRNA":2.3,"PAF1 KO":-0.05},
      {"t":"pair","p":"IFN-B","id":14,"ncgRNA":2.25,"PAF1 KO":0.3},
      {"t":"pair","p":"IFN-B","id":15,"ncgRNA":2.2,"PAF1 KO":1.65},
      {"t":"pair","p":"IFN-B","id":16,"ncgRNA":2.16,"PAF1 KO":-1.0},
      {"t":"pair","p":"IFN-B","id":17,"ncgRNA":2.1,"PAF1 KO":0.8},
      {"t":"pair","p":"IFN-B","id":18,"ncgRNA":2.0,"PAF1 KO":-2.25},
      {"t":"pair","p":"IFN-B","id":19,"ncgRNA":1.95,"PAF1 KO":1.1},
      {"t":"pair","p":"IFN-B","id":20,"ncgRNA":1.9,"PAF1 KO":0.0},
      {"t":"pair","p":"IFN-B","id":21,"ncgRNA":1.85,"PAF1 KO":2.2},
      {"t":"pair","p":"IFN-B","id":22,"ncgRNA":1.8,"PAF1 KO":-0.5},
      {"t":"pair","p":"IFN-B","id":23,"ncgRNA":1.76,"PAF1 KO":0.6},
      {"t":"pair","p":"IFN-B","id":24,"ncgRNA":1.7,"PAF1 KO":1.3},
      {"t":"pair","p":"IFN-B","id":25,"ncgRNA":1.65,"PAF1 KO":-1.4},
      {"t":"pair","p":"IFN-B","id":26,"ncgRNA":1.6,"PAF1 KO":0.2},
      {"t":"pair","p":"IFN-B","id":27,"ncgRNA":1.55,"PAF1 KO":1.0},
      {"t":"pair","p":"IFN-B","id":28,"ncgRNA":1.48,"PAF1 KO":-0.3}
    ]
  },
  "data": {"name": "main"},
  "spacing": 7,
  "hconcat": [
    {
      "transform": [{"filter": "datum.t !== 'key'"}],
      "facet": {"column": {"field": "p", "type": "nominal", "sort": ["poly I:C", "poly dA:dT", "LPS", "TNF-a", "IFN-B"], "header": {"title": null, "labels": false, "labelPadding": 0, "titlePadding": 0}}},
      "spacing": 1,
      "bounds": "flush",
      "spec": {
        "width": 194,
        "height": 336,
        "layer": [
          {
            "transform": [{"filter": "datum.t === 'box'"}],
            "mark": {"type": "rect", "stroke": "#555555", "strokeWidth": 1.3},
            "encoding": {
              "x": {"field": "g", "type": "nominal", "title": null, "scale": {"type": "band", "domain": ["ncgRNA", "PAF1 KO"], "paddingInner": 0.257, "paddingOuter": 0.084}},
              "y": {"field": "q1", "type": "quantitative", "title": "Log₂FC (Stimulation / Mock)", "scale": {"domain": [-4.28, 16.85], "zero": false, "nice": false}},
              "y2": {"field": "q3"},
              "fill": {"field": "g", "type": "nominal", "scale": {"domain": ["ncgRNA", "PAF1 KO"], "range": ["#e1e1e1", "#a7d6cc"]}, "legend": null}
            }
          },
          {
            "transform": [{"filter": "datum.t === 'box'"}],
            "mark": {"type": "rule", "color": "#333333", "strokeWidth": 1},
            "encoding": {
              "x": {"field": "g", "type": "nominal", "title": null, "scale": {"type": "band", "domain": ["ncgRNA", "PAF1 KO"], "paddingInner": 0.257, "paddingOuter": 0.084}},
              "y": {"field": "lo", "type": "quantitative", "title": "Log₂FC (Stimulation / Mock)", "scale": {"domain": [-4.28, 16.85], "zero": false, "nice": false}},
              "y2": {"field": "hi"}
            }
          },
          {
            "transform": [{"filter": "datum.t === 'box'"}],
            "mark": {"type": "rect", "filled": false, "color": "#333333", "strokeWidth": 2},
            "encoding": {
              "x": {"field": "g", "type": "nominal", "title": null, "scale": {"type": "band", "domain": ["ncgRNA", "PAF1 KO"], "paddingInner": 0.257, "paddingOuter": 0.084}},
              "y": {"field": "med", "type": "quantitative", "title": "Log₂FC (Stimulation / Mock)", "scale": {"domain": [-4.28, 16.85], "zero": false, "nice": false}},
              "y2": {"field": "med"}
            }
          },
          {
            "transform": [{"filter": "datum.t === 'pair'"}, {"fold": ["ncgRNA", "PAF1 KO"], "as": ["g", "v"]}],
            "mark": {"type": "line", "strokeWidth": 0.6, "color": "#444444", "opacity": 0.36},
            "encoding": {
              "x": {"field": "g", "type": "nominal", "title": null, "scale": {"type": "band", "domain": ["ncgRNA", "PAF1 KO"], "paddingInner": 0.257, "paddingOuter": 0.084}},
              "y": {"field": "v", "type": "quantitative", "title": "Log₂FC (Stimulation / Mock)", "scale": {"domain": [-4.28, 16.85], "zero": false, "nice": false}},
              "detail": {"field": "id", "type": "nominal"}
            }
          },
          {
            "transform": [{"filter": "datum.t === 'panel'"}],
            "mark": {"type": "rule", "color": "#000000", "strokeWidth": 0.9, "strokeDash": [1.5, 1.5]},
            "encoding": {
              "y": {"datum": 0, "type": "quantitative", "title": "Log₂FC (Stimulation / Mock)", "scale": {"domain": [-4.28, 16.85], "zero": false, "nice": false}}
            }
          },
          {
            "transform": [
              {"filter": "datum.t === 'pair' || datum.t === 'box'"},
              {"fold": ["ncgRNA", "PAF1 KO"], "as": ["gk", "v"]},
              {"filter": "datum.t === 'pair' || datum.gk === datum.g"},
              {"calculate": "datum.t === 'box' ? datum.g : datum.gk", "as": "gg"},
              {"joinaggregate": [{"op": "max", "field": "hi", "as": "H"}, {"op": "min", "field": "lo", "as": "L"}], "groupby": ["p", "gg"]},
              {"filter": "datum.t === 'pair' && (datum.v > datum.H || datum.v < datum.L)"}
            ],
            "mark": {"type": "point", "filled": true, "size": 24, "color": "#9a9a9a", "opacity": 0.7, "stroke": "#555555", "strokeWidth": 0.5},
            "encoding": {
              "x": {"field": "gg", "type": "nominal", "title": null, "scale": {"type": "band", "domain": ["ncgRNA", "PAF1 KO"], "paddingInner": 0.257, "paddingOuter": 0.084}},
              "y": {"field": "v", "type": "quantitative", "title": "Log₂FC (Stimulation / Mock)", "scale": {"domain": [-4.28, 16.85], "zero": false, "nice": false}}
            }
          },
          {
            "transform": [{"filter": "datum.t === 'pair'"}, {"fold": ["ncgRNA", "PAF1 KO"], "as": ["g", "v"]}],
            "mark": {"type": "point", "filled": true, "size": 4, "color": "#000000", "opacity": 0.9},
            "encoding": {
              "x": {"field": "g", "type": "nominal", "title": null, "scale": {"type": "band", "domain": ["ncgRNA", "PAF1 KO"], "paddingInner": 0.257, "paddingOuter": 0.084}},
              "y": {"field": "v", "type": "quantitative", "title": "Log₂FC (Stimulation / Mock)", "scale": {"domain": [-4.28, 16.85], "zero": false, "nice": false}}
            }
          },
          {
            "transform": [{"filter": "datum.t === 'panel'"}],
            "mark": {"type": "rule", "color": "#333333", "strokeWidth": 1},
            "encoding": {
              "x": {"datum": "ncgRNA", "type": "nominal", "title": null, "bandPosition": 0.5, "scale": {"type": "band", "domain": ["ncgRNA", "PAF1 KO"], "paddingInner": 0.257, "paddingOuter": 0.084}},
              "x2": {"datum": "PAF1 KO", "bandPosition": 0.5},
              "y": {"datum": 15.18, "type": "quantitative", "title": "Log₂FC (Stimulation / Mock)", "scale": {"domain": [-4.28, 16.85], "zero": false, "nice": false}}
            }
          },
          {
            "transform": [{"filter": "datum.t === 'panel'"}],
            "mark": {"type": "rule", "color": "#333333", "strokeWidth": 1},
            "encoding": {
              "x": {"datum": "ncgRNA", "type": "nominal", "title": null, "bandPosition": 0.5, "scale": {"type": "band", "domain": ["ncgRNA", "PAF1 KO"], "paddingInner": 0.257, "paddingOuter": 0.084}},
              "y": {"datum": 14.7, "type": "quantitative", "title": "Log₂FC (Stimulation / Mock)", "scale": {"domain": [-4.28, 16.85], "zero": false, "nice": false}},
              "y2": {"datum": 15.18}
            }
          },
          {
            "transform": [{"filter": "datum.t === 'panel'"}],
            "mark": {"type": "rule", "color": "#333333", "strokeWidth": 1},
            "encoding": {
              "x": {"datum": "PAF1 KO", "type": "nominal", "title": null, "bandPosition": 0.5, "scale": {"type": "band", "domain": ["ncgRNA", "PAF1 KO"], "paddingInner": 0.257, "paddingOuter": 0.084}},
              "y": {"datum": 14.7, "type": "quantitative", "title": "Log₂FC (Stimulation / Mock)", "scale": {"domain": [-4.28, 16.85], "zero": false, "nice": false}},
              "y2": {"datum": 15.18}
            }
          },
          {
            "transform": [{"filter": "datum.t === 'panel'"}],
            "mark": {"type": "text", "fontSize": 17, "color": "#333333", "baseline": "alphabetic", "align": "center", "dx": -1},
            "encoding": {
              "y": {"datum": 14.98, "type": "quantitative", "title": "Log₂FC (Stimulation / Mock)", "scale": {"domain": [-4.28, 16.85], "zero": false, "nice": false}},
              "text": {"field": "sig"}
            }
          },
          {
            "transform": [{"filter": "datum.t === 'panel'"}],
            "mark": {"type": "rect"},
            "encoding": {
              "y": {"datum": 16.98, "type": "quantitative", "title": "Log₂FC (Stimulation / Mock)", "scale": {"domain": [-4.28, 16.85], "zero": false, "nice": false}},
              "y2": {"datum": 18.49},
              "color": {"field": "p", "type": "nominal", "scale": {"domain": ["poly I:C", "poly dA:dT", "LPS", "TNF-a", "IFN-B"], "range": ["#c6e3f2", "#c8f1df", "#d1ebef", "#dcc8e5", "#c8d6eb"]}, "legend": null}
            }
          },
          {
            "transform": [{"filter": "datum.t === 'panel'"}],
            "mark": {"type": "text", "fontSize": 19.5, "fontWeight": "bold", "color": "#333333", "baseline": "middle", "align": "center"},
            "encoding": {
              "y": {"datum": 17.73, "type": "quantitative", "title": "Log₂FC (Stimulation / Mock)", "scale": {"domain": [-4.28, 16.85], "zero": false, "nice": false}},
              "text": {"field": "p"}
            }
          }
        ]
      }
    },
    {
      "width": 58,
      "height": 336,
      "view": {"stroke": null},
      "transform": [{"filter": "datum.t === 'key'"}],
      "layer": [
        {
          "transform": [{"filter": "datum.s === '**'"}],
          "mark": {"type": "text", "align": "right", "baseline": "middle", "dy": 5, "fontSize": 18, "color": "#111111"},
          "encoding": {"y": {"datum": -2.02, "type": "quantitative", "scale": {"domain": [-4.28, 16.85], "zero": false, "nice": false}, "axis": null}, "text": {"field": "s"}}
        },
        {
          "transform": [{"filter": "datum.s === '**'"}],
          "mark": {"type": "text", "align": "left", "baseline": "middle", "dx": 4, "fontSize": 16, "color": "#111111"},
          "encoding": {"y": {"datum": -2.02, "type": "quantitative", "scale": {"domain": [-4.28, 16.85], "zero": false, "nice": false}, "axis": null}, "text": {"field": "l"}}
        },
        {
          "transform": [{"filter": "datum.s === '***'"}],
          "mark": {"type": "text", "align": "right", "baseline": "middle", "dy": 5, "fontSize": 18, "color": "#111111"},
          "encoding": {"y": {"datum": -3.4, "type": "quantitative", "scale": {"domain": [-4.28, 16.85], "zero": false, "nice": false}, "axis": null}, "text": {"field": "s"}}
        },
        {
          "transform": [{"filter": "datum.s === '***'"}],
          "mark": {"type": "text", "align": "left", "baseline": "middle", "dx": 4, "fontSize": 16, "color": "#111111"},
          "encoding": {"y": {"datum": -3.4, "type": "quantitative", "scale": {"domain": [-4.28, 16.85], "zero": false, "nice": false}, "axis": null}, "text": {"field": "l"}}
        }
      ]
    }
  ],
  "config": {
    "font": "Liberation Sans",
    "view": {"stroke": "#808080", "strokeWidth": 1.2},
    "axis": {"grid": false, "domain": false, "labelFontSize": 16, "labelColor": "#111111", "labelFont": "Liberation Sans", "tickColor": "#333333", "tickWidth": 1.6, "tickSize": 5, "labelPadding": 3, "titleFontSize": 16.5, "titleFontWeight": "normal", "titleColor": "#111111", "titleFont": "Liberation Sans"},
    "axisX": {"labelAngle": 0, "labelPadding": 4},
    "axisY": {"tickCount": 4, "titlePadding": 6}
  }
}
